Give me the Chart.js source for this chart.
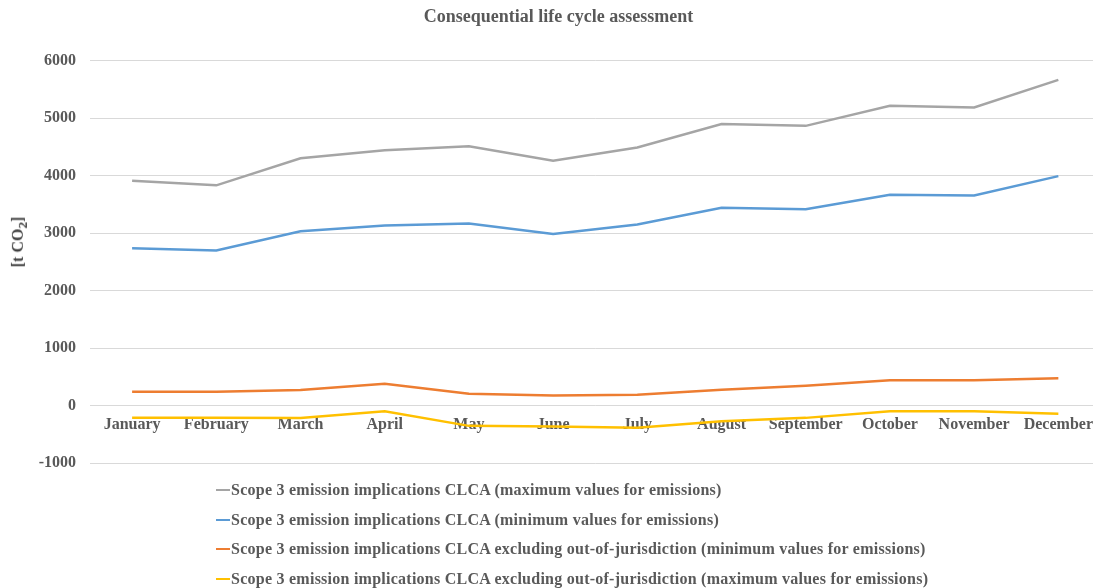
<!DOCTYPE html>
<html>
<head>
<meta charset="utf-8">
<script src="https://cdn.jsdelivr.net/npm/chart.js@4.4.0/dist/chart.umd.min.js"></script>
<style>
  body { margin: 0; background: #fff; overflow: hidden; }
  #wrap { position: relative; width: 1103px; height: 588px; }
  #yTitle {
    position: absolute; left: 20px; top: 242px;
    transform: translate(-50%, -50%) rotate(-90deg);
    font: bold 16px "Liberation Serif", serif; color: #404040; white-space: nowrap;
  }
  #legend { position: absolute; left: 216px; top: 475px; font: bold 16px "Liberation Serif", serif; letter-spacing: 0.25px; color: #595959; }
  .item { height: 29.7px; display: flex; align-items: center; white-space: nowrap; }
  .swatch { width: 14px; height: 2px; margin-right: 1px; }
</style>
</head>
<body>
<div id="wrap">
  <canvas id="chart" width="1103" height="588"></canvas>
  <div id="yTitle">[t CO<sub>2</sub>]</div>
  <div id="legend"></div>
</div>
<script>
// data
const months = ['January', 'February', 'March', 'April', 'May', 'June', 'July', 'August', 'September', 'October', 'November', 'December'];
const clcaMax = [3910, 3830, 4300, 4440, 4510, 4260, 4490, 4895, 4865, 5215, 5185, 5665];
const clcaMin = [2735, 2695, 3030, 3130, 3165, 2985, 3150, 3440, 3415, 3665, 3655, 3990];
const exclMin = [238, 238, 272, 378, 205, 175, 186, 273, 343, 441, 441, 476];
const exclMax = [-215, -215, -218, -100, -354, -366, -388, -273, -215, -100, -100, -145];
const yTicks = [-1000, 0, 1000, 2000, 3000, 4000, 5000, 6000];

const seriesLabels = [
    'Scope 3 emission implications CLCA (maximum values for emissions)',
    'Scope 3 emission implications CLCA (minimum values for emissions)',
    'Scope 3 emission implications CLCA excluding out-of-jurisdiction (minimum values for emissions)',
    'Scope 3 emission implications CLCA excluding out-of-jurisdiction (maximum values for emissions)'
];
const seriesColors = ['#A5A5A5', '#5B9BD5', '#ED7D31', '#FFC000'];
const seriesData = [clcaMax, clcaMin, exclMin, exclMax];

const textColor = '#595959';
const font = { family: '"Liberation Serif", serif', weight: 'bold', size: 16 };

const datasets = seriesData.map((d, i) => ({
    label: seriesLabels[i],
    data: d,
    borderColor: seriesColors[i],
    backgroundColor: seriesColors[i],
    borderWidth: 2.5,
    pointRadius: 0,
    tension: 0,
    fill: false
}));

const ctx = document.getElementById('chart').getContext('2d');
const chart = new Chart(ctx, {
    type: 'line',
    data: { labels: months, datasets: datasets },
    options: {
        responsive: false,
        animation: false,
        devicePixelRatio: 1,
        layout: { padding: { left: 14, right: 0, top: 0, bottom: 125 } },
        plugins: {
            legend: { display: false },
            tooltip: { enabled: false },
            title: {
                display: true,
                text: 'Consequential life cycle assessment',
                color: textColor,
                font: { family: font.family, weight: 'bold', size: 18 },
                padding: { top: 7, bottom: 32 }
            }
        },
        scales: {
            x: {
                type: 'category',
                offset: true,
                position: { y: 0 },
                grid: { display: false, drawTicks: false },
                border: { display: false },
                ticks: { color: textColor, font: font, padding: 10, maxRotation: 0, autoSkip: false }
            },
            y: {
                min: -1000,
                max: 6000,
                afterFit: (scale) => { scale.width = 76; },
                afterBuildTicks: (scale) => { scale.ticks = yTicks.map(v => ({ value: v })); },
                grid: { color: '#D9D9D9', lineWidth: 1, drawTicks: false },
                border: { display: false },
                ticks: { color: textColor, font: font, padding: 14, callback: (v) => String(v) }
            }
        }
    }
});

// legend built from the datasets, one entry per row
const legend = document.getElementById('legend');
chart.data.datasets.forEach(ds => {
    const row = document.createElement('div');
    row.className = 'item';
    row.innerHTML = `<span class="swatch" style="background:${ds.borderColor}"></span><span>${ds.label}</span>`;
    legend.appendChild(row);
});
</script>
</body>
</html>
